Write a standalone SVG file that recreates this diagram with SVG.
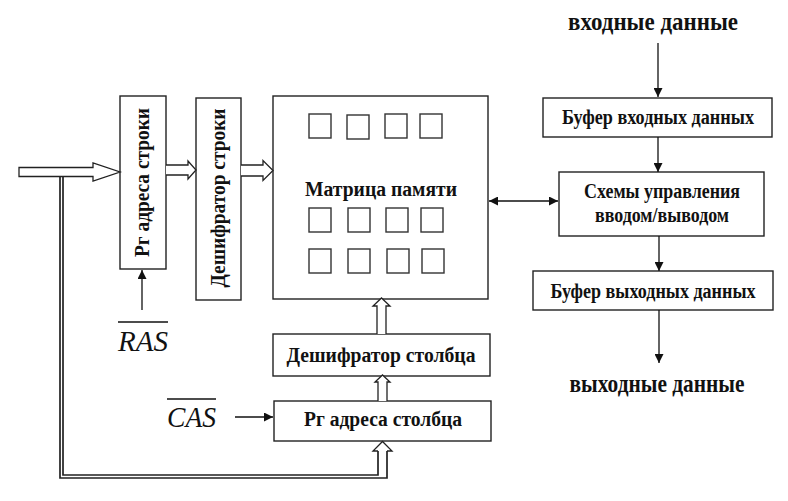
<svg xmlns="http://www.w3.org/2000/svg" width="788" height="501" viewBox="0 0 788 501">
<defs>
<style>
.box{fill:#fff;stroke:#222;stroke-width:1.4}
.cell{fill:none;stroke:#333;stroke-width:1.4}
.lbl{font-family:"Liberation Serif","Times New Roman",serif;font-weight:bold;font-size:20px;fill:#111;text-anchor:middle}
.big{font-family:"Liberation Serif","Times New Roman",serif;font-weight:bold;font-size:25px;fill:#111;text-anchor:middle}
.sig{font-family:"Liberation Serif","Times New Roman",serif;font-style:italic;font-size:30px;fill:#111}
.ln{fill:none;stroke:#111;stroke-width:1.3}
.bus{fill:#fff;stroke:#222;stroke-width:1.3;stroke-linejoin:miter}
.dbl{fill:none;stroke:#222;stroke-width:1.7}
</style>
<marker id="ah" viewBox="0 0 10 10" refX="10" refY="5" markerWidth="9" markerHeight="9" markerUnits="userSpaceOnUse" orient="auto-start-reverse">
<path d="M0,0 L10,5 L0,10 Z" fill="#111"/>
</marker>
</defs>
<rect width="788" height="501" fill="#fff"/>

<g id="rg-row">
<rect class="box" x="120" y="96" width="46" height="173"/>
<text class="lbl" transform="translate(149,182.5) rotate(-90)" textLength="149" lengthAdjust="spacingAndGlyphs">Рг адреса строки</text>
</g>
<g id="dec-row">
<rect class="box" x="196" y="98" width="45" height="202"/>
<text class="lbl" transform="translate(225,198) rotate(-90)" textLength="179" lengthAdjust="spacingAndGlyphs">Дешифратор строки</text>
</g>
<g id="matrix">
<rect class="box" x="273" y="96" width="215" height="203"/>
<rect class="cell" x="309" y="114" width="22" height="24"/>
<rect class="cell" x="347" y="115" width="22" height="24"/>
<rect class="cell" x="385" y="114" width="22" height="24"/>
<rect class="cell" x="420" y="114" width="22" height="24"/>
<rect class="cell" x="309" y="208" width="22" height="24"/>
<rect class="cell" x="348" y="208" width="22" height="24"/>
<rect class="cell" x="386" y="208" width="22" height="24"/>
<rect class="cell" x="421" y="208" width="22" height="24"/>
<rect class="cell" x="309" y="249" width="22" height="24"/>
<rect class="cell" x="348" y="249" width="22" height="24"/>
<rect class="cell" x="387" y="249" width="22" height="24"/>
<rect class="cell" x="422" y="249" width="22" height="24"/>
<text class="lbl" x="381" y="196" textLength="152" lengthAdjust="spacingAndGlyphs">Матрица памяти</text>
</g>
<g id="buf-in">
<rect class="box" x="543" y="98" width="229" height="39"/>
<text class="lbl" x="658" y="124" textLength="192" lengthAdjust="spacingAndGlyphs">Буфер входных данных</text>
</g>
<g id="io-ctrl">
<rect class="box" x="559" y="172" width="205" height="64"/>
<text class="lbl" x="662" y="198" textLength="156" lengthAdjust="spacingAndGlyphs">Схемы управления</text>
<text class="lbl" x="662" y="222" textLength="134" lengthAdjust="spacingAndGlyphs">вводом/выводом</text>
</g>
<g id="buf-out">
<rect class="box" x="533" y="271" width="240" height="39"/>
<text class="lbl" x="653" y="298" textLength="205" lengthAdjust="spacingAndGlyphs">Буфер выходных данных</text>
</g>
<g id="dec-col">
<rect class="box" x="273" y="334" width="217" height="42"/>
<text class="lbl" x="381" y="362" textLength="189" lengthAdjust="spacingAndGlyphs">Дешифратор столбца</text>
</g>
<g id="rg-col">
<rect class="box" x="274" y="401" width="217" height="40"/>
<text class="lbl" x="383" y="426" textLength="158" lengthAdjust="spacingAndGlyphs">Рг адреса столбца</text>
</g>
<g id="in-data">
<text class="big" x="653" y="30" textLength="170" lengthAdjust="spacingAndGlyphs">входные данные</text>
</g>
<g id="out-data">
<text class="big" x="657" y="392" textLength="175" lengthAdjust="spacingAndGlyphs">выходные данные</text>
</g>
<g id="ras">
<text class="sig" x="118" y="351" textLength="50" lengthAdjust="spacingAndGlyphs">RAS</text>
<line class="ln" x1="118" y1="322" x2="168" y2="322"/>
</g>
<g id="cas">
<text class="sig" x="167" y="427" textLength="49" lengthAdjust="spacingAndGlyphs">CAS</text>
<line class="ln" x1="167" y1="399" x2="216" y2="399"/>
</g>

<g id="connectors">
<line class="ln" x1="658" y1="43" x2="658" y2="97" marker-end="url(#ah)"/>
<line class="ln" x1="658" y1="137" x2="658" y2="172" marker-end="url(#ah)"/>
<line class="ln" x1="659" y1="236" x2="659" y2="271" marker-end="url(#ah)"/>
<line class="ln" x1="659" y1="310" x2="659" y2="363" marker-end="url(#ah)"/>
<line class="ln" x1="489" y1="201" x2="558" y2="201" marker-start="url(#ah)" marker-end="url(#ah)"/>
<line class="ln" x1="142" y1="310" x2="142" y2="270" marker-end="url(#ah)"/>
<line class="ln" x1="235" y1="417" x2="273" y2="417" marker-end="url(#ah)"/>

<path class="dbl" d="M60,176 L60,478 L387,478 L387,450"/>
<path class="dbl" d="M63,176 L63,475 L378,475 L378,450"/>
<path class="bus" d="M378,451 L373,451 L382.5,441.5 L392,451 L387,451"/>
<path class="bus" d="M19,167.5 L93,167.5 L93,163 L120,172 L93,181 L93,176.5 L19,176.5 Z"/>
<path class="bus" d="M166,165 L188,165 L188,161 L196,170 L188,179 L188,175 L166,175"/>
<path class="bus" d="M241,165 L263,165 L263,160.5 L273,170.5 L263,180.5 L263,176 L241,176"/>
<path class="bus" d="M377,334 L377,306 L373,306 L381.5,298 L390,306 L386,306 L386,334"/>
<path class="bus" d="M378,401 L378,382 L375,382 L382.5,375 L390,382 L387,382 L387,401"/>
</g>
</svg>
